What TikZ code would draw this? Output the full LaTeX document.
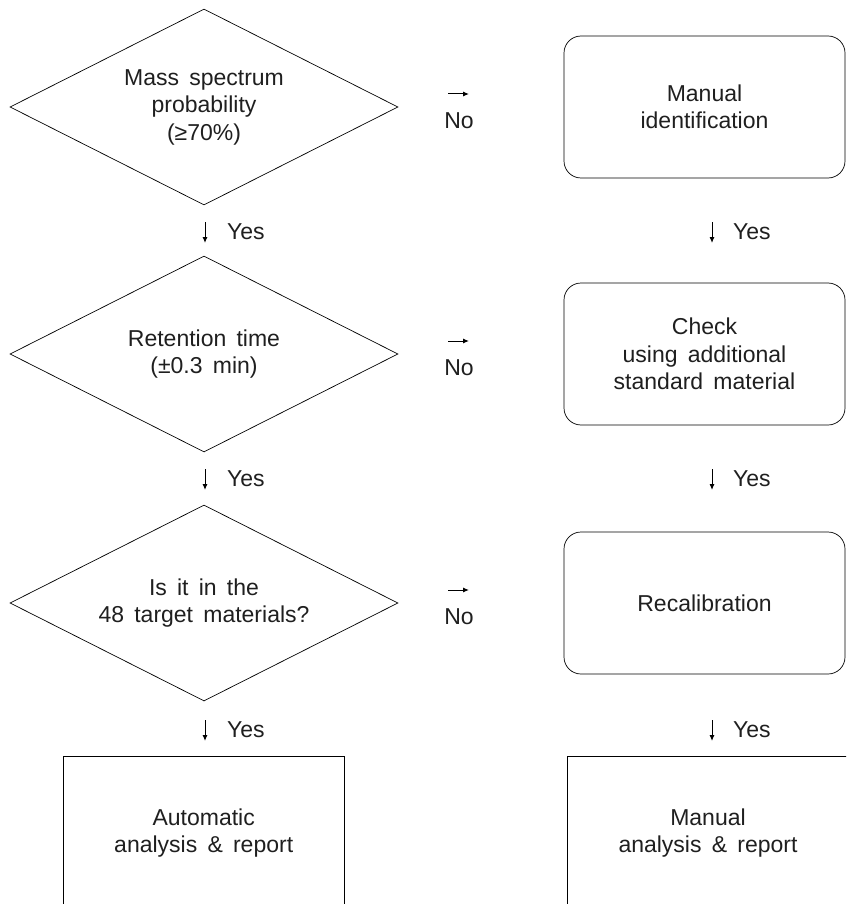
\documentclass[tikz,border=0pt]{standalone}
\usepackage{fontspec}
\setmainfont{Liberation Sans}[WordSpace=1.6]
\usetikzlibrary{shapes.geometric,arrows.meta}
\begin{document}
\begin{tikzpicture}[x=1pt,y=-1pt,
  font=\fontsize{23}{27.5}\selectfont,
  every node/.style={align=center, text=black!88},
  decision/.style={draw, shape=diamond, aspect=2, inner sep=0pt,
    minimum width=388pt, minimum height=196pt, line width=0.7pt},
  roundbox/.style={draw, rectangle, rounded corners=17pt, inner sep=0pt,
    minimum width=281pt, minimum height=142pt, line width=0.7pt},
  endbox/.style={draw, rectangle, inner sep=0pt,
    minimum width=281pt, minimum height=154pt, line width=0.7pt},
  smallarrow/.style={-{Latex[length=6pt,width=5pt]}, line width=1pt},
  lbl/.style={inner sep=0pt}]
\useasboundingbox (0,0) rectangle (846,904);
\clip (0,0) rectangle (846,904);

% left column: decisions
\node[decision] (d1) at (204,107) {Mass spectrum\\probability\\(≥70\%)};
\node[decision] (d2) at (204,354) {Retention time\\(±0.3 min)};
\node[decision] (d3) at (204,603) {Is it in the\\48 target materials?};
\node[endbox]   (e1) at (203.7,833) {Automatic\\analysis \& report};

% right column
\node[roundbox] (r1) at (704.5,107) {Manual\\identification};
\node[roundbox] (r2) at (704.5,354) {Check\\using additional\\standard material};
\node[roundbox] (r3) at (704.5,603) {Recalibration};
\node[endbox]   (e2) at (708,833) {Manual\\analysis \& report};

% Yes arrows, left
\coordinate (ly1a) at (205,222); \coordinate (ly1b) at (205,243);
\coordinate (ly2a) at (205,469); \coordinate (ly2b) at (205,490);
\coordinate (ly3a) at (205,720); \coordinate (ly3b) at (205,741);
\draw[smallarrow] (ly1a) -- (ly1b);
\draw[smallarrow] (ly2a) -- (ly2b);
\draw[smallarrow] (ly3a) -- (ly3b);
\node[lbl, anchor=west] (lyes1) at (227,232) {Yes};
\node[lbl, anchor=west] (lyes2) at (227,479) {Yes};
\node[lbl, anchor=west] (lyes3) at (227,730) {Yes};

% Yes arrows, right
\coordinate (ry1a) at (712,222); \coordinate (ry1b) at (712,243);
\coordinate (ry2a) at (712,469); \coordinate (ry2b) at (712,490);
\coordinate (ry3a) at (712,720); \coordinate (ry3b) at (712,741);
\draw[smallarrow] (ry1a) -- (ry1b);
\draw[smallarrow] (ry2a) -- (ry2b);
\draw[smallarrow] (ry3a) -- (ry3b);
\node[lbl, anchor=west] (ryes1) at (733,232) {Yes};
\node[lbl, anchor=west] (ryes2) at (733,479) {Yes};
\node[lbl, anchor=west] (ryes3) at (733,730) {Yes};

% No arrows
\coordinate (n1a) at (448,94);  \coordinate (n1b) at (469,94);
\coordinate (n2a) at (448,341); \coordinate (n2b) at (469,341);
\coordinate (n3a) at (448,590); \coordinate (n3b) at (469,590);
\draw[smallarrow] (n1a) -- (n1b);
\draw[smallarrow] (n2a) -- (n2b);
\draw[smallarrow] (n3a) -- (n3b);
\node[lbl] (no1) at (459,121) {No};
\node[lbl] (no2) at (459,368) {No};
\node[lbl] (no3) at (459,617) {No};
\end{tikzpicture}
\end{document}
